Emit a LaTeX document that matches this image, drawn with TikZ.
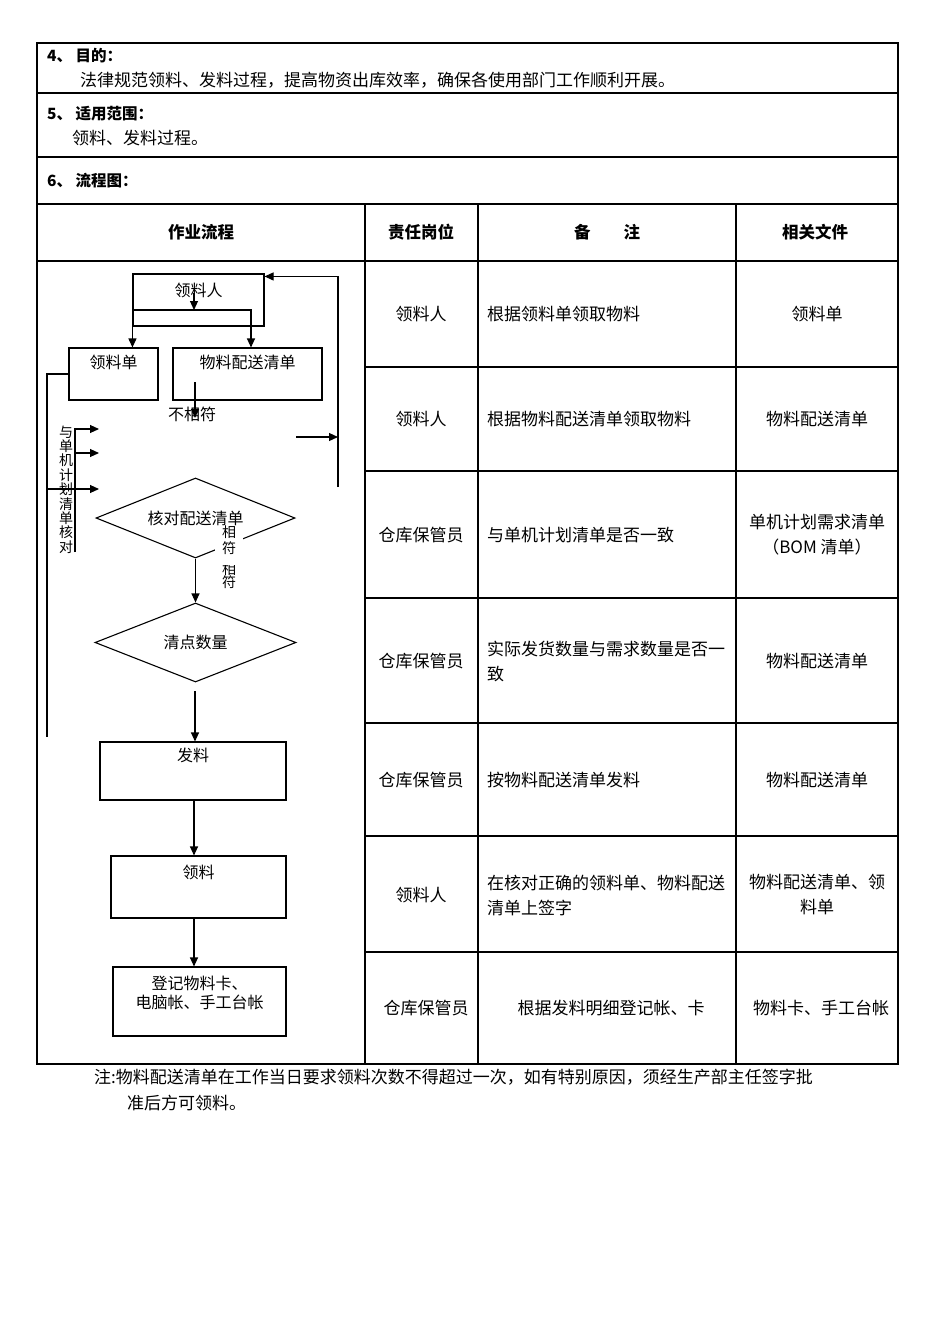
\documentclass[tikz,border=0pt]{standalone}
\usepackage{fontspec}
\setmainfont{Noto Sans CJK SC}
\usetikzlibrary{arrows.meta,shapes.geometric}
\tikzset{
  grid line/.style = {
    line width=1.1pt
  },
  flow line/.style = {
    line width=1.1pt
  },
  flow arrow/.style = {
    line width=1.1pt,
    -{Triangle[length=9pt,width=8pt]}
  },
  flowbox/.style = {
    draw,
    line width=1.1pt,
    inner sep=0pt
  },
  flowdiamond/.style = {
    draw,
    diamond,
    aspect=2.5,
    line width=1.1pt,
    inner sep=0pt,
    font={\fontsize{16}{20}\selectfont}
  },
  box title/.style = {
    anchor=north,
    inner sep=0pt,
    align=center,
    font={\fontsize{16}{19}\selectfont}
  },
  flowtext/.style = {
    inner sep=0pt,
    align=center,
    font={\fontsize{16}{20}\selectfont}
  },
  cell text/.style = {
    inner sep=0pt,
    align=center,
    font={\fontsize{17}{25}\selectfont}
  },
  cell note/.style = {
    cell text,
    anchor=west,
    align=left
  },
  head text/.style = {
    inner sep=0pt,
    anchor=west,
    font={\fontsize{17}{20}\selectfont}
  },
}

\begin{document}
\begin{tikzpicture}[x=1pt,y=-1pt]
  \useasboundingbox (0,0) rectangle (950,1344);

  % table frame
  \draw[grid line] (37,43) rectangle (898,1064);
  \foreach \rowline in {93,157,204,261} {
    \draw[grid line] (37,\rowline) -- (898,\rowline);
  }
  \foreach \rowline in {367,471,598,723,836,952} {
    \draw[grid line] (365,\rowline) -- (898,\rowline);
  }
  \foreach \colline in {365,478,736} {
    \draw[grid line] (\colline,204) -- (\colline,1064);
  }

  % headings
  \node[head text, font={\fontsize{15.5}{20}\selectfont\bfseries}] (aim) at (47,56) {4、 目的：};
  \node[head text] (aim-text) at (80,80) {法律规范领料、发料过程，提高物资出库效率，确保各使用部门工作顺利开展。};
  \node[head text, font={\fontsize{15.5}{20}\selectfont\bfseries}] (scope) at (47,114) {5、 适用范围：};
  \node[head text] (scope-text) at (72,138) {领料、发料过程。};
  \node[head text, font={\fontsize{15.5}{20}\selectfont\bfseries}] (chart) at (47,181) {6、 流程图：};

  % column heads
  \foreach \colx/\colname/\head in {
    201/flow/作业流程,
    421/post/责任岗位,
    607/note/备\hspace{2em}注,
    817/doc/相关文件
  } {
    \node[cell text, font={\fontsize{16.5}{20}\selectfont\bfseries}] (head-\colname) at (\colx,232) {\head};
  }

  % table rows
  \foreach \rowy/\rowpost/\rownote/\rowdoc in {
    314/领料人/根据领料单领取物料/领料单,
    419/领料人/根据物料配送清单领取物料/物料配送清单,
    535/仓库保管员/与单机计划清单是否一致/,
    661/仓库保管员//物料配送清单,
    780/仓库保管员/按物料配送清单发料/物料配送清单,
    895/领料人//
  } {
    \node[cell text] (post-\rowy) at (421,\rowy) {\rowpost};
    \node[cell note] (note-\rowy) at (487,\rowy) {\rownote};
    \node[cell text] (doc-\rowy) at (817,\rowy) {\rowdoc};
  }
  \node[cell text] (bom) at (817,535) {单机计划需求清单\\（BOM 清单）};
  \node[cell note] (qty) at (487,661) {实际发货数量与需求数量是否一\\致};
  \node[cell note] (sign) at (487,895) {在核对正确的领料单、物料配送\\清单上签字};
  \node[cell text] (sign-doc) at (817,895) {物料配送清单、领\\料单};
  \node[cell text] (post-1008) at (426,1008) {仓库保管员};
  \node[cell text] (note-1008) at (611,1008) {根据发料明细登记帐、卡};
  \node[cell text] (doc-1008) at (821,1008) {物料卡、手工台帐};

  % footnote
  \node[head text] (remark) at (94,1077) {注:物料配送清单在工作当日要求领料次数不得超过一次，如有特别原因，须经生产部主任签字批};
  \node[head text] (remark-2) at (127,1103) {准后方可领料。};

  % flow chart
  \node[flowbox, minimum width=131pt, minimum height=52pt,
    label={[box title, name=pick-t, yshift=-9pt]north:领料人}] (pick) at (198.5,300) {};
  \node[flowbox, minimum width=89pt, minimum height=52pt,
    label={[box title, name=slip-t, yshift=-7pt]north:领料单}] (slip) at (113.5,374) {};
  \node[flowbox, minimum width=149pt, minimum height=52pt,
    label={[box title, name=list-t, yshift=-7pt]north:物料配送清单}] (list) at (247.5,374) {};
  \node[flowtext] (misfit) at (192,414) {不相符};
  \node[flowtext, font={\fontsize{14}{14.4}\selectfont}] (crosscheck) at (66,489.5)
    {与\\单\\机\\计\\划\\清\\单\\核\\对};
  \node[flowdiamond, minimum width=199pt, minimum height=80pt] (check) at (195.5,518) {核对配送清单};
  \node[flowtext, fill=white, inner xsep=7pt, font={\fontsize{14}{16}\selectfont}] (fit) at (229,540.5) {相\\符};
  \begin{scope}
    \clip (215,565) rectangle (245,600);
    \node[flowtext, font={\fontsize{14}{13}\selectfont}] (fit-2) at (229,575.5) {相\\符};
  \end{scope}
  \node[flowdiamond, minimum width=201pt, minimum height=79pt] (count) at (195.5,642.5) {清点数量};
  \node[flowbox, minimum width=186pt, minimum height=58pt,
    label={[box title, name=issue-t, yshift=-6pt]north:发料}] (issue) at (193,771) {};
  \node[flowbox, minimum width=175pt, minimum height=62pt,
    label={[box title, name=receive-t, yshift=-9pt]north:领料}] (receive) at (198.5,887) {};
  \node[flowbox, minimum width=173pt, minimum height=69pt,
    label={[box title, name=record-t, yshift=-9pt]north:登记物料卡、\\电脑帐、手工台帐}] (record) at (199.5,1001.5) {};

  % connectors
  \coordinate (split) at (133,310);
  \coordinate (pickdown) at (194,293);
  \coordinate (back) at (338,487);
  \coordinate (mis) at (296,437);
  \coordinate (leftend) at (47,737);
  \coordinate (vbar) at (75,552);
  \coordinate (tick1) at (99,429);
  \coordinate (tick2) at (99,453);
  \coordinate (tick3) at (99,489);
  \coordinate (listdown) at (195,382);
  \coordinate (drop) at (195,691);
  \coordinate (spine) at (194,800);

  \draw[flow arrow] (pickdown) -- (pickdown |- split);
  \draw[flow arrow] (split) -| ([xshift=3.5pt]list.north);
  \draw[flow arrow] (pick.south west) -- (pick.south west |- slip.north);
  \draw[flow arrow] (back) |- ([yshift=-3pt]pick.north east);
  \draw[flow arrow] (mis) -- (mis -| back);
  \draw[flow line] (slip.west) -| (leftend);
  \draw[flow arrow] (vbar) |- (tick1);
  \draw[flow arrow] (vbar |- tick2) -- (tick2);
  \draw[flow arrow] (leftend |- tick3) -- (tick3);
  \draw[flow arrow] (listdown) -- ++(0,36);
  \draw[flow arrow] (check.south) -- (count.north);
  \draw[flow arrow] (drop) -- (drop |- issue.north);
  \draw[flow arrow] (spine) -- (spine |- receive.north);
  \draw[flow arrow] (spine |- receive.south) -- (spine |- record.north);

\end{tikzpicture}
\end{document}
